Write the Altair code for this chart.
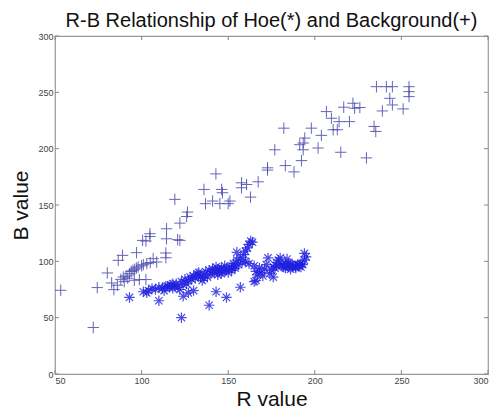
import altair as alt
import pandas as pd

# Background (+) points: R, B
bg_r = [235.6, 241.3, 244.8, 254.4, 254.4, 254.4, 243.3, 244.8, 239.0, 251.0, 234.2, 235.2, 229.8,
        222.0, 223.0, 226.0, 216.7, 206.7, 209.6, 214.0, 220.0, 210.6, 213.0, 215.0, 198.0, 203.8,
        201.9, 194.2, 193.3, 191.3, 193.3, 192.3, 182.1, 176.9, 183.0, 188.0, 172.7, 172.7, 167.3,
        157.7, 160.6, 157.7, 162.9, 142.9, 146.2, 146.7, 136.0, 141.0, 145.2, 151.0, 150.0, 136.9,
        119.2, 126.5, 126.0, 122.1, 114.4, 104.8, 104.8, 100.6, 102.5, 114.4, 120.8, 122.1, 97.1,
        89.0, 86.5, 80.2, 82.7, 86.0, 84.0, 89.4, 74.4, 53.3, 72.1, 106.7, 108.7, 114.0, 114.0,
        98.7, 102.5, 95.8, 91.0, 93.0, 94.0, 95.0, 96.0, 97.0, 98.0, 100.0, 101.0, 103.0, 105.0,
        88.0, 90.0, 92.0]
bg_b = [255.0, 255.0, 255.0, 255.0, 250.6, 246.2, 244.7, 238.8, 233.5, 235.3, 219.7, 215.3, 191.8,
        240.3, 235.9, 236.5, 236.8, 232.9, 227.0, 224.0, 224.0, 216.8, 216.8, 196.8, 218.2, 211.8,
        200.6, 209.4, 205.0, 203.5, 199.0, 189.4, 218.2, 199.0, 185.0, 179.4, 183.0, 181.0, 170.6,
        169.7, 168.2, 165.3, 157.0, 177.6, 163.8, 160.9, 163.8, 153.5, 151.2, 153.5, 151.2, 151.2,
        155.0, 143.7, 139.8, 133.9, 128.9, 124.5, 122.0, 118.6, 118.0, 120.0, 119.2, 118.6, 107.7,
        105.3, 100.9, 89.7, 80.8, 78.8, 74.9, 86.1, 76.7, 74.3, 41.3, 102.4, 99.4, 107.4, 103.2,
        83.8, 83.8, 83.2, 87.0, 89.0, 91.0, 92.0, 93.0, 94.0, 95.0, 96.0, 97.0, 98.0, 99.0,
        84.0, 82.0, 85.0]

# Hoe (*) points: R, B
hoe_r = [101, 103, 104, 106, 108, 110, 112, 113, 115, 116, 117, 118, 119, 120, 121, 122, 123, 124,
         125, 126, 127, 128, 129, 130, 131, 132, 133, 134, 135, 136, 137, 138, 139, 140, 141, 142,
         143, 144, 145, 146, 147, 148, 149, 150, 151, 152, 153, 154, 155, 156, 157, 158, 159, 160,
         161, 162, 163, 164, 160, 162, 165, 166, 167, 168, 169, 170, 171, 172, 173, 174, 175, 176,
         177, 178, 179, 180, 181, 182, 183, 184, 185, 186, 187, 188, 189, 190, 191, 192, 193, 194,
         194, 195, 192, 186, 178, 184, 123, 139, 149, 143, 110, 93, 124, 157, 165, 166, 176, 130,
         127, 155, 141, 144, 146, 148, 181, 183, 187, 189, 191, 185, 152, 154, 118, 114, 133, 136]
hoe_b = [73, 72, 74, 76, 75, 77, 76, 74, 78, 77, 79, 76, 78, 80, 77, 75, 82, 79,
         84, 80, 83, 86, 84, 87, 85, 89, 88, 86, 83, 88, 91, 86, 92, 89, 93, 90,
         95, 88, 92, 94, 91, 96, 93, 90, 95, 92, 98, 94, 101, 97, 103, 99, 106, 109,
         112, 115, 118, 117, 100, 98, 96, 91, 88, 94, 90, 87, 93, 97, 103, 89, 92, 95,
         94, 96, 101, 103, 97, 95, 98, 96, 95, 97, 95, 96, 94, 97, 96, 98, 97, 101,
         107, 104, 95, 93, 99, 102, 50, 61, 68, 73, 65, 68, 69, 77, 82, 83, 86, 74,
         72, 108, 91, 93, 89, 92, 96, 94, 97, 95, 97, 98, 94, 96, 80, 78, 90, 85]

x_ticks = [50, 100, 150, 200, 250, 300]
y_ticks = [0, 50, 100, 150, 200, 250, 300]

W, H = 433, 338

bg = pd.DataFrame({"R": bg_r, "B": bg_b})
hoe = pd.DataFrame({"R": hoe_r, "B": hoe_b})
xt = pd.DataFrame({"R": x_ticks})
yt = pd.DataFrame({"B": y_ticks})

xs = alt.Scale(domain=[50, 300], nice=False)
ys = alt.Scale(domain=[0, 300], nice=False)

PLUS = "M-1,0L1,0M0,-1L0,1"
STAR = "M-1,0L1,0M0,-1L0,1M-0.7,-0.7L0.7,0.7M-0.7,0.7L0.7,-0.7"

xaxis = alt.Axis(values=x_ticks, ticks=False, domain=False, grid=False, labelFontSize=9,
                 labelColor="#444", labelPadding=2, title="R value", titleFontSize=21,
                 titleFontWeight="normal", titleColor="#111", titlePadding=3,
                 titleFont="Liberation Sans", labelFont="Liberation Sans")
yaxis = alt.Axis(values=y_ticks, ticks=False, domain=False, grid=False, labelFontSize=9,
                 labelColor="#444", labelPadding=2, title="B value", titleFontSize=21,
                 titleFontWeight="normal", titleColor="#111", titlePadding=6,
                 titleFont="Liberation Sans", labelFont="Liberation Sans")

bg_layer = alt.Chart(bg).mark_point(shape=PLUS, size=130, stroke="#4b4bb0", strokeWidth=1,
                                    opacity=0.85, filled=False).encode(
    x=alt.X("R:Q", scale=xs, axis=xaxis),
    y=alt.Y("B:Q", scale=ys, axis=yaxis),
)
hoe_layer = alt.Chart(hoe).mark_point(shape=STAR, size=110, stroke="#2020e0", strokeWidth=1.2,
                                      opacity=0.8, filled=False).encode(
    x=alt.X("R:Q", scale=xs),
    y=alt.Y("B:Q", scale=ys),
)

tick_col = "#888"
bt = alt.Chart(xt).mark_rule(color=tick_col).encode(
    x=alt.X("R:Q", scale=xs), y=alt.value(H), y2=alt.value(H - 4))
tt = alt.Chart(xt).mark_rule(color=tick_col).encode(
    x=alt.X("R:Q", scale=xs), y=alt.value(0), y2=alt.value(4))
lt = alt.Chart(yt).mark_rule(color=tick_col).encode(
    y=alt.Y("B:Q", scale=ys), x=alt.value(0), x2=alt.value(4))
rt = alt.Chart(yt).mark_rule(color=tick_col).encode(
    y=alt.Y("B:Q", scale=ys), x=alt.value(W), x2=alt.value(W - 4))

chart = alt.layer(bt, tt, lt, rt, bg_layer, hoe_layer).properties(
    width=W, height=H,
    title=alt.TitleParams("R-B Relationship of Hoe(*) and Background(+)", fontSize=20,
                          fontWeight="normal", font="Liberation Sans", color="#111",
                          offset=1),
    autosize=alt.AutoSizeParams(type="none"),
    padding={"left": 47, "top": 28, "right": 6, "bottom": 39},
).configure_view(stroke="#999", strokeWidth=1.2)

chart.save("out.html", embed_options={"renderer": "svg", "actions": False})
